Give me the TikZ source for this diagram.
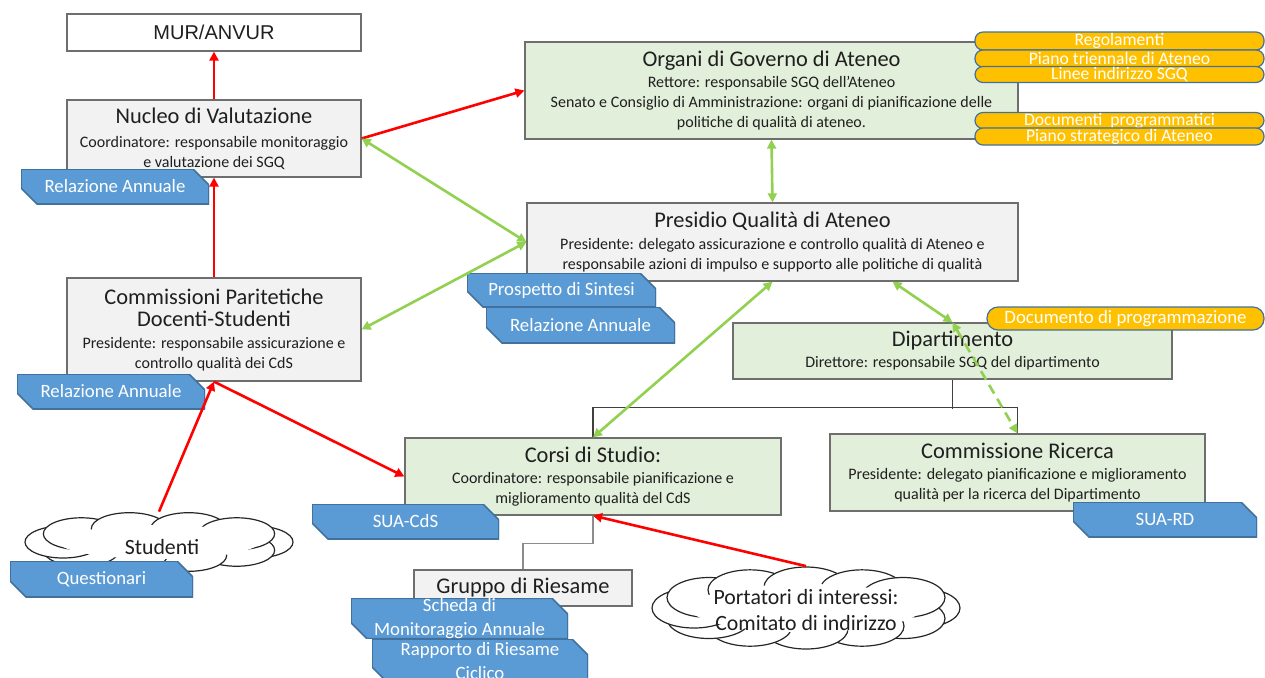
\documentclass[tikz,border=0pt]{standalone}
\usepackage{fontspec}
\setmainfont{Carlito}
\newfontfamily\arialfont{Liberation Sans}
\usetikzlibrary{calc}
\usetikzlibrary{shapes,arrows.meta}

\definecolor{boxgray}{HTML}{F2F2F2}
\definecolor{boxgreen}{HTML}{E2EFDA}
\definecolor{boxline}{HTML}{6E6E6E}
\definecolor{tagblue}{HTML}{5B9BD5}
\definecolor{tagline}{HTML}{41719C}
\definecolor{docorange}{HTML}{FFC000}
\definecolor{arrred}{HTML}{FF0000}
\definecolor{arrgreen}{HTML}{92D050}
\definecolor{txt}{HTML}{1F1F1F}

\newcommand{\boxtitle}[1]{{\fontsize{11.2}{13}\selectfont #1}}

\tikzset{
  boxsize/.style 2 args={minimum width={0.5pt*#1}, minimum height={0.5pt*#2}},
  orgbox/.style={draw=boxline, line width=0.6pt, inner sep=0pt, align=center,
    text=txt, font=\fontsize{8}{10}\selectfont},
  graybox/.style={orgbox, fill=boxgray},
  greenbox/.style={orgbox, fill=boxgreen},
  doctag/.style={rectangle, inner sep=0pt, align=center, text=white,
    font=\fontsize{9.4}{12}\selectfont,
    path picture={
      \fill[tagblue, draw=tagline, line width=0.8pt]
        (path picture bounding box.north west)
        -- ([xshift=-8pt]path picture bounding box.north east)
        -- ([yshift=-8pt]path picture bounding box.north east)
        -- (path picture bounding box.south east)
        -- ([xshift=8pt]path picture bounding box.south west)
        -- ([yshift=8pt]path picture bounding box.south west) -- cycle;}},
  docpill/.style={draw=tagline, line width=0.6pt, fill=docorange, rounded corners=4pt,
    inner sep=0pt, text=white, font=\fontsize{8.8}{9}\selectfont},
  cloudarea/.style={ellipse, inner sep=0pt},
  cloudline/.style={draw=black!85, fill=white, line width=0.6pt},
  cloudtext/.style={align=center, text=txt, inner sep=0pt, font=\fontsize{10.9}{13}\selectfont},
  orgline/.style={draw=black!75, line width=0.6pt},
  redarrow/.style={draw=arrred, line width=1.3pt, -{Triangle[length=4.5pt,width=4.5pt]}},
  greenarrow/.style={draw=arrgreen, line width=1.3pt,
    {Triangle[length=4.5pt,width=4.5pt]}-{Triangle[length=4.5pt,width=4.5pt]}}
}

\begin{document}
\begin{tikzpicture}[x=0.5pt,y=-0.5pt]
  \useasboundingbox (0,0) rectangle (1265,677);

  % boxes
  \node[orgbox, fill=white, font=\arialfont\fontsize{10}{11}\selectfont, boxsize={294}{37}] (mur) at (214,32.5) {MUR/ANVUR};
  \node[graybox, boxsize={294}{77}] (nucleo) at (214,138.5) {\boxtitle{Nucleo di Valutazione}\\[2pt]
    Coordinatore: responsabile monitoraggio\\e valutazione dei SGQ};
  \node[graybox, boxsize={294}{103}] (commissioni) at (214,329.5) {\boxtitle{Commissioni Paritetiche}\\[1pt]
    \boxtitle{Docenti-Studenti}\\[1pt]Presidente: responsabile assicurazione e\\controllo qualità dei CdS};
  \node[greenbox, boxsize={493}{97}] (organi) at (771.5,90.5) {\boxtitle{Organi di Governo di Ateneo}\\[0.5pt]
    Rettore: responsabile SGQ dell’Ateneo\\
    Senato e Consiglio di Amministrazione: organi di pianificazione delle\\
    politiche di qualità di ateneo.};
  \node[graybox, boxsize={491}{78}] (presidio) at (772.5,242) {\boxtitle{Presidio Qualità di Ateneo}\\[1pt]
    Presidente: delegato assicurazione e controllo qualità di Ateneo e\\
    responsabile azioni di impulso e supporto alle politiche di qualità};
  \node[greenbox, boxsize={439}{56}] (dip) at (952.5,351) {\boxtitle{Dipartimento}\\[0.5pt]
    Direttore: responsabile SGQ del dipartimento};
  \node[greenbox, boxsize={376}{77}] (corsi) at (593,476.5) {\boxtitle{Corsi di Studio:}\\[0.5pt]
    Coordinatore: responsabile pianificazione e\\miglioramento qualità del CdS};
  \node[greenbox, boxsize={375}{77}] (comric) at (1017.5,472.5) {\boxtitle{Commissione Ricerca}\\[0.5pt]
    Presidente: delegato pianificazione e miglioramento\\qualità per la ricerca del Dipartimento};
  \node[graybox, boxsize={218}{36}] (gruppo) at (523,588) {\boxtitle{Gruppo di Riesame}};

  % org chart lines
  \draw[orgline] (dip.south) -- ++(0,29);
  \draw[orgline] (corsi.north) -- ++(0,-30) -| (comric.north);
  \draw[orgline, draw=black!45] (corsi.south) -- ++(0,28) -| (gruppo.north);

  % clouds
  \node[cloudarea, boxsize={268}{60}] (studenti) at (159,542) {};
  \foreach \ang in {0,36,...,324}
    \draw[cloudline] ($(studenti.center)+(\ang:96 and 14)$) ellipse (38 and 16);
  \fill[white] (studenti.center) ellipse (100 and 17);
  \node[cloudtext] (studentitxt) at (162,547) {Studenti};

  \node[cloudarea, boxsize={308}{83}] (portatori) at (806,608) {};
  \foreach \ang in {0,30,...,330}
    \draw[cloudline] ($(portatori.center)+(\ang:112 and 21)$) ellipse (42 and 20);
  \fill[white] (portatori.center) ellipse (116 and 24);
  \node[cloudtext] (portatoritxt) at (806,610) {Portatori di interessi:\\Comitato di indirizzo};

  % documents
  \node[doctag, boxsize={188}{35}] (relnucleo) at (115,186.5) {Relazione Annuale};
  \node[doctag, boxsize={188}{35}] (relcomm) at (111,391.5) {Relazione Annuale};
  \node[doctag, boxsize={189}{34}] (prospetto) at (561.5,290) {Prospetto di Sintesi};
  \node[doctag, boxsize={189}{36}] (relpresidio) at (580.5,325) {Relazione Annuale};
  \node[doctag, boxsize={187}{35}] (suacds) at (405.5,521.5) {SUA-CdS};
  \node[doctag, boxsize={184}{35}] (suard) at (1165,519.5) {SUA-RD};
  \node[doctag, boxsize={183}{36}] (questionari) at (101.5,579) {Questionari};
  \node[doctag, boxsize={217}{39}] (scheda) at (459.5,618.5) {Scheda di\\Monitoraggio Annuale};
  \node[doctag, boxsize={216}{44}] (rapporto) at (480,661) {Rapporto di Riesame\\Ciclico};

  \node[docpill, boxsize={289}{18}] (regolamenti) at (1119.5,41) {Regolamenti};
  \node[docpill, boxsize={289}{17}] (triennale) at (1119.5,58.5) {Piano triennale di Ateneo};
  \node[docpill, boxsize={289}{16}] (linee) at (1119.5,74.5) {Linee indirizzo SGQ};
  \node[docpill, boxsize={289}{16}] (programmatici) at (1119.5,120.5) {Documenti\ \ programmatici};
  \node[docpill, boxsize={289}{17}] (strategico) at (1119.5,136.5) {Piano strategico di Ateneo};
  \node[docpill, font=\fontsize{9.4}{10}\selectfont, rounded corners=5.5pt, boxsize={277}{23}] (docdip) at (1125.5,318.5) {Documento di programmazione};

  % arrows
  \draw[redarrow] (nucleo.north) -- (mur.south);
  \draw[redarrow] (commissioni.north) -- (nucleo.south);
  \draw[redarrow] (nucleo.east) -- (organi.west);
  \draw[redarrow] (commissioni.south) -- (corsi.west);
  \draw[redarrow] (studenti.north) -- (commissioni.south);
  \draw[redarrow] (portatori.north) -- (corsi.south);
  \draw[greenarrow] (organi.south) -- (presidio.north);
  \draw[greenarrow] (nucleo.east) -- (presidio.west);
  \draw[greenarrow] (commissioni.east) -- (presidio.west);
  \draw[greenarrow] (presidio.south) -- (corsi.north);
  \draw[greenarrow] ([xshift=60pt]presidio.south) -- (dip.north);
  \draw[greenarrow, dashed, dash pattern=on 5pt off 3pt] (dip.north) -- (comric.north);
\end{tikzpicture}
\end{document}
